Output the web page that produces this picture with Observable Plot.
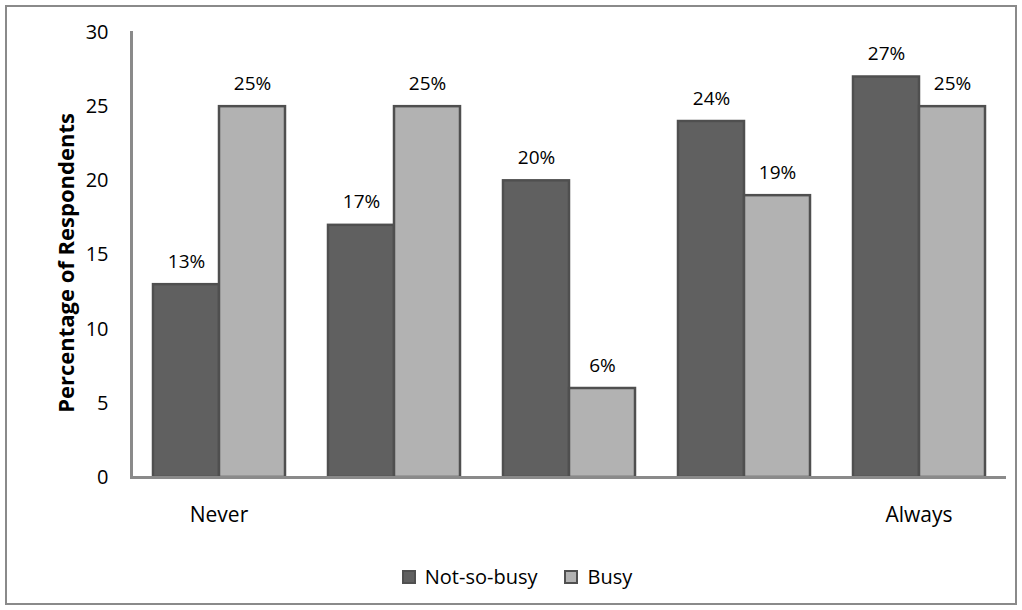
<!DOCTYPE html>
<html>
<head>
<meta charset="utf-8">
<script src="https://cdn.jsdelivr.net/npm/d3@7"></script>
<script src="https://cdn.jsdelivr.net/npm/@observablehq/plot@0.6"></script>
<style>
  body { margin: 0; background: #fff; font-family: "Open Sans", sans-serif; }
  #wrap { position: relative; width: 1022px; height: 610px; }
  #border { position: absolute; left: 5px; top: 5px; width: 1012px; height: 600px; box-sizing: border-box; border: 2px solid #8a8a8a; }
  #chart { position: absolute; left: 0; top: 0; }
  #legend { position: absolute; left: 6px; top: 563px; width: 1022px; display: flex; justify-content: center; align-items: center; gap: 27px; font-size: 20px; color: #000; }
  .item { display: flex; align-items: center; gap: 9px; }
  .sw { width: 10px; height: 10px; border: 2px solid #505050; }
</style>
</head>
<body>
<div id="wrap">
  <div id="border"></div>
  <div id="chart"></div>
  <div id="legend"></div>
</div>
<script>
const categories = ["Never", "2", "3", "4", "Always"];
const categoryLabels = ["Never", "", "", "", "Always"];
const seriesNames = ["Not-so-busy", "Busy"];
const notSoBusy = [13, 17, 20, 24, 27];
const busy = [25, 25, 6, 19, 25];
const yTicks = [0, 5, 10, 15, 20, 25, 30];
const colors = ["#606060", "#b2b2b2"];

const data = [];
categories.forEach((c, i) => {
  data.push({cat: c, series: seriesNames[0], value: notSoBusy[i]});
  data.push({cat: c, series: seriesNames[1], value: busy[i]});
});

const chart = Plot.plot({
  width: 1022,
  height: 540,
  marginLeft: 130,
  marginRight: 16,
  marginTop: 32,
  marginBottom: 63,
  style: {fontFamily: "'Open Sans', sans-serif", fontSize: "19px", color: "#000", background: "transparent"},
  fx: {domain: categories, padding: 0, label: null, axis: null},
  x: {domain: seriesNames, paddingInner: 0, paddingOuter: 0.31, axis: null},
  y: {domain: [0, 30], label: null, axis: null},
  color: {domain: seriesNames, range: colors},
  marks: [
    Plot.barY(data, {fx: "cat", x: "series", y: "value", fill: "series", stroke: "#4f4f4f", strokeWidth: 2.5}),
    Plot.ruleY([0], {stroke: "#8a8a8a", strokeWidth: 3}),
    Plot.frame({anchor: "left", facetAnchor: "left", stroke: "#8a8a8a", strokeWidth: 3}),
    Plot.text(data, {fx: "cat", x: "series", y: "value", text: d => d.value + "%", dy: -23, fontSize: 19, fill: "#000"}),
    Plot.axisY({ticks: yTicks, tickSize: 0, tickPadding: 23, fontSize: 20, label: null}),
    Plot.axisFx({anchor: "bottom", tickSize: 0, tickPadding: 30, fontSize: 21, tickFormat: d => categoryLabels[categories.indexOf(d)], label: null}),
    Plot.text(["Percentage of Respondents"], {frameAnchor: "left", textAnchor: "middle", dx: -65, dy: 8, rotate: -90, fontWeight: "bold", fontSize: 22, fx: () => "Never", facetAnchor: "left"})
  ]
});
document.getElementById("chart").appendChild(chart);

const legend = document.getElementById("legend");
seriesNames.forEach((s, i) => {
  const item = document.createElement("div");
  item.className = "item";
  const sw = document.createElement("div");
  sw.className = "sw";
  sw.style.background = colors[i];
  const t = document.createElement("span");
  t.textContent = s;
  item.appendChild(sw);
  item.appendChild(t);
  legend.appendChild(item);
});
</script>
</body>
</html>
